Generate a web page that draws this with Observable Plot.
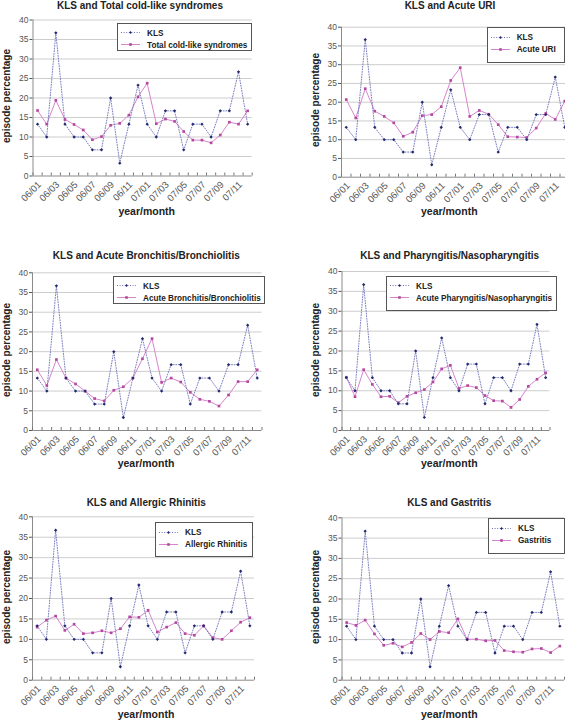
<!DOCTYPE html>
<html>
<head>
<meta charset="utf-8">
<script src="https://cdn.jsdelivr.net/npm/d3@7"></script>
<script src="https://cdn.jsdelivr.net/npm/@observablehq/plot@0.6"></script>
<style>
  html, body { margin: 0; padding: 0; background: #fff; }
  #root { position: relative; width: 565px; height: 721px; overflow: hidden; background: #fff;
          font-family: "Liberation Sans", Arial, Helvetica, sans-serif; }
  .abs { position: absolute; }
  .title { font-weight: bold; font-size: 10px; color: #222; white-space: nowrap; transform: translate(-50%, -50%); }
  .ytitle { font-weight: bold; font-size: 10px; color: #222; white-space: nowrap; transform: translate(-50%, -50%) rotate(-90deg); }
  .xtitle { font-weight: bold; font-size: 10.5px; color: #222; white-space: nowrap; transform: translate(-50%, -50%); }
  .legend { border: 1px solid #555; background: #fff; box-sizing: border-box; }
  .lrow { position: absolute; left: 3px; display: flex; align-items: center; transform: translateY(-50%);
          font-weight: bold; font-size: 8.2px; color: #222; white-space: nowrap; }
  .lrow svg { margin-right: 7px; }
</style>
</head>
<body>
<div id="root"></div>
<script>
// ---------- data ----------
const months = ["06/01","06/02","06/03","06/04","06/05","06/06","06/07","06/08","06/09","06/10","06/11","06/12",
                "07/01","07/02","07/03","07/04","07/05","07/06","07/07","07/08","07/09","07/10","07/11","07/12"];
const tickLabels = ["06/01","06/03","06/05","06/07","06/09","06/11","07/01","07/03","07/05","07/07","07/09","07/11"];
const yTicks = [0, 5, 10, 15, 20, 25, 30, 35, 40];

const kls = [13.3, 10.0, 36.7, 13.3, 10.0, 10.0, 6.7, 6.7, 20.0, 3.3, 13.3, 23.3,
             13.3, 10.0, 16.7, 16.7, 6.7, 13.3, 13.3, 10.0, 16.7, 16.7, 26.7, 13.3];
const totalCold = [16.8, 13.3, 19.4, 14.5, 13.2, 11.8, 9.3, 10.1, 13.0, 13.5, 15.6, 20.3,
                   23.8, 13.4, 14.6, 14.0, 11.4, 9.2, 9.2, 8.5, 10.5, 13.8, 13.3, 16.7];
const acuteURI = [20.7, 15.8, 23.6, 17.6, 16.2, 14.5, 10.9, 12.0, 16.4, 16.7, 18.8, 25.8,
                  29.2, 16.2, 17.8, 16.8, 14.0, 10.8, 10.7, 10.6, 13.1, 17.0, 15.4, 20.3];
const bronchitis = [15.4, 11.4, 18.0, 13.3, 11.8, 10.0, 8.1, 7.5, 10.2, 11.1, 13.3, 18.2,
                    23.3, 12.2, 13.3, 12.3, 9.7, 7.9, 7.4, 6.2, 9.0, 12.4, 12.4, 15.4];
const pharyngitis = [13.4, 8.5, 15.3, 11.6, 8.5, 8.6, 7.0, 8.6, 9.5, 10.3, 12.2, 15.5,
                     16.4, 10.6, 11.3, 10.8, 8.8, 7.5, 7.4, 5.8, 7.8, 11.1, 12.9, 14.5];
const rhinitis = [13.0, 14.7, 15.7, 12.2, 13.7, 11.4, 11.6, 12.1, 11.6, 12.6, 15.5, 15.4,
                  17.1, 11.8, 13.0, 14.1, 11.4, 11.0, 13.3, 10.4, 10.0, 12.1, 14.2, 15.3];
const gastritis = [14.2, 13.5, 14.8, 11.4, 8.6, 9.1, 8.2, 9.3, 11.5, 10.0, 12.0, 11.7,
                   15.1, 10.1, 10.1, 9.7, 9.8, 7.3, 7.0, 6.9, 7.7, 7.8, 6.8, 8.4];

const titles = ["KLS and Total cold-like syndromes", "KLS and Acute URI",
                "KLS and Acute Bronchitis/Bronchiolitis", "KLS and Pharyngitis/Nasopharyngitis",
                "KLS and Allergic Rhinitis", "KLS and Gastritis"];
const seriesNames = ["Total cold-like syndromes", "Acute URI", "Acute Bronchitis/Bronchiolitis",
                     "Acute Pharyngitis/Nasopharyngitis", "Allergic Rhinitis", "Gastritis"];
const seriesValues = [totalCold, acuteURI, bronchitis, pharyngitis, rhinitis, gastritis];
const klsName = "KLS";
const yLabel = "episode percentage";
const xLabel = "year/month";

// ---------- style ----------
const KLS_LINE = "#6e72b8", KLS_DOT = "#23296f";
const SER_LINE = "#d685cd", SER_DOT = "#b4479f";
const FONT = '"Liberation Sans", Arial, Helvetica, sans-serif';

// ---------- layout (page coordinates) ----------
const layout = [
  {svg:[0,0,290,235],   frame:[32.5,251.7,19.5,175.5], title:[140,5],     ytitle:[6,96],      xtitle:[146.7,210.7], legend:[117,22.7,135,28]},
  {svg:[280,0,300,235], frame:[341,569,26.7,176.7],    title:[450,5],     ytitle:[315,100],   xtitle:[449.3,210.7], legend:[486.7,27.3,78,35.5]},
  {svg:[0,235,290,240], frame:[32,261.5,272.3,430],    title:[146.3,255], ytitle:[6,350],     xtitle:[146,463.3],   legend:[113,275.7,152,28]},
  {svg:[280,235,290,240], frame:[341.5,549.5,271,430], title:[449.7,255], ytitle:[315,350],   xtitle:[449.3,463.3], legend:[386,275.7,171,35.5]},
  {svg:[0,475,290,246], frame:[32,254,516.3,679.7],    title:[146.2,501.7], ytitle:[6,597],   xtitle:[146,714.3],   legend:[155,522,98,35]},
  {svg:[280,475,300,246], frame:[341.5,564,517.3,679.7], title:[449.3,501.7], ytitle:[314.5,597], xtitle:[449.3,714.3], legend:[488,518,77,36]}
];

const root = document.getElementById("root");

function place(el, x, y) { el.style.left = x + "px"; el.style.top = y + "px"; return el; }

function sample(line, dot, dashed, square) {
  const ns = "http://www.w3.org/2000/svg";
  const s = document.createElementNS(ns, "svg");
  s.setAttribute("width", 19); s.setAttribute("height", 8);
  const l = document.createElementNS(ns, "line");
  l.setAttribute("x1", 0); l.setAttribute("x2", 19); l.setAttribute("y1", 4); l.setAttribute("y2", 4);
  l.setAttribute("stroke", line); l.setAttribute("stroke-width", 1);
  if (dashed) l.setAttribute("stroke-dasharray", "1,1.6");
  s.appendChild(l);
  if (square) {
    const r = document.createElementNS(ns, "rect");
    r.setAttribute("x", 8.2); r.setAttribute("y", 2.7); r.setAttribute("width", 2.6); r.setAttribute("height", 2.6);
    r.setAttribute("fill", dot); s.appendChild(r);
  } else {
    const p = document.createElementNS(ns, "path");
    p.setAttribute("d", "M9.5,2.4 L10.9,4 L9.5,5.6 L8.1,4 Z");
    p.setAttribute("fill", dot); s.appendChild(p);
  }
  return s;
}

layout.forEach((g, k) => {
  const [sl, st, sw, sh] = g.svg;
  const [fl, fr, ft, fb] = g.frame;
  const vals = seriesValues[k];
  const idx = d3.range(months.length);
  const labelPos = tickLabels.map(t => months.indexOf(t) + 0.5);

  const chart = Plot.plot({
    width: sw, height: sh,
    marginLeft: fl - sl, marginRight: sl + sw - fr, marginTop: ft - st, marginBottom: st + sh - fb,
    style: {fontFamily: FONT, background: "transparent", overflow: "visible"},
    x: {type: "linear", domain: [0, months.length], axis: null},
    y: {domain: [0, 40], axis: null},
    marks: [
      Plot.gridY(yTicks.filter(v => v > 0), {stroke: "#cdcdcd", strokeOpacity: 1}),
      Plot.axisY(yTicks, {tickSize: 3, tickPadding: 1.5, fontSize: 8.5, color: "#555", label: null}),
      Plot.ruleX([0], {stroke: "#8a8a8a"}),
      Plot.ruleY([0], {stroke: "#8a8a8a"}),
      Plot.axisX(d3.range(months.length + 1), {tickSize: -3, tickFormat: () => "", color: "#777", label: null}),
      Plot.axisX(labelPos, {tickSize: 0, tickPadding: 7, dx: 2, tickRotate: -45, fontSize: 9.5, color: "#555",
                            tickFormat: p => months[Math.floor(p)], label: null}),
      Plot.line(idx, {x: i => i + 0.5, y: i => vals[i], stroke: SER_LINE, strokeWidth: 1}),
      Plot.line(idx, {x: i => i + 0.5, y: i => kls[i], stroke: KLS_LINE, strokeWidth: 0.9, strokeDasharray: "1,1.6"}),
      Plot.dot(idx, {x: i => i + 0.5, y: i => vals[i], symbol: "square", r: 1.5, fill: SER_DOT, stroke: "none"}),
      Plot.dot(idx, {x: i => i + 0.5, y: i => kls[i], symbol: "diamond2", r: 1.5, fill: KLS_DOT, stroke: "none"})
    ]
  });
  chart.style.position = "absolute";
  chart.style.left = sl + "px";
  chart.style.top = st + "px";
  root.appendChild(chart);

  const t = document.createElement("div"); t.className = "abs title"; t.textContent = titles[k];
  root.appendChild(place(t, g.title[0], g.title[1]));
  const yt = document.createElement("div"); yt.className = "abs ytitle"; yt.textContent = yLabel;
  root.appendChild(place(yt, g.ytitle[0], g.ytitle[1]));
  const xt = document.createElement("div"); xt.className = "abs xtitle"; xt.textContent = xLabel;
  root.appendChild(place(xt, g.xtitle[0], g.xtitle[1]));

  const [ll, lt, lw, lh] = g.legend;
  const lg = document.createElement("div"); lg.className = "abs legend";
  lg.style.width = lw + "px"; lg.style.height = lh + "px";
  place(lg, ll, lt);
  [[klsName, KLS_LINE, KLS_DOT, true, false, 10], [seriesNames[k], SER_LINE, SER_DOT, false, true, 22]]
    .forEach(([name, lc, dc, dashed, sq, yy]) => {
      const row = document.createElement("div"); row.className = "lrow";
      row.style.top = (yy - 1) + "px";
      row.appendChild(sample(lc, dc, dashed, sq));
      const sp = document.createElement("span"); sp.textContent = name;
      row.appendChild(sp);
      lg.appendChild(row);
    });
  root.appendChild(lg);
});
</script>
</body>
</html>
